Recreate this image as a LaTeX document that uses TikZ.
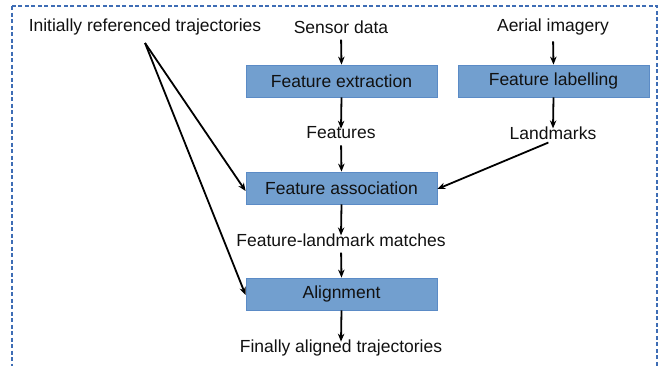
\documentclass[tikz,border=0pt]{standalone}
\usepackage{fontspec}
\setmainfont{Liberation Sans}
\usetikzlibrary{arrows.meta}
\definecolor{boxfill}{HTML}{729FCF}
\definecolor{boxline}{HTML}{5B8BC6}
\definecolor{frame}{HTML}{3E6DB5}
\definecolor{ink}{HTML}{111111}
\tikzset{
  proc/.style={draw=boxline, line width=0.8pt, fill=boxfill, minimum width=191pt, minimum height=32pt, inner sep=0pt, text=ink, font=\fontsize{17.5}{20}\selectfont},
  lbl/.style={inner sep=1pt, text=ink, font=\fontsize{17.5}{20}\selectfont},
  arr/.style={draw=black, line width=1.8pt, -{Stealth[length=8pt,width=6.5pt]}},
  fromlbl/.style={shorten <=5pt}
}
\begin{document}
\begin{tikzpicture}[x=1pt,y=-1pt]
\useasboundingbox (0,0) rectangle (665,365);
\draw[frame, line width=2.3pt, dash pattern=on 4pt off 2.5pt] (12,6) rectangle (657,380);
\node[lbl] (init) at (145,27) {Initially referenced trajectories};
\node[lbl] (sensor) at (341,27) {Sensor data};
\node[lbl] (aerial) at (553,27) {Aerial imagery};
\node[proc] (extr) at (341.5,81) {Feature extraction};
\node[proc] (label) at (553.5,81) {Feature labelling};
\node[lbl] (feat) at (341,133) {Features};
\node[lbl] (land) at (553,133) {Landmarks};
\node[proc] (assoc) at (341.5,188) {Feature association};
\node[lbl] (match) at (341,240) {Feature-landmark matches};
\node[proc] (align) at (341.5,294) {Alignment};
\node[lbl] (final) at (341,348) {Finally aligned trajectories};
\coordinate (src) at (145,43);
\draw[arr,fromlbl] (sensor.south) -- (extr.north);
\draw[arr,fromlbl] (aerial.south) -- (label.north);
\draw[arr] (extr.south) -- ([yshift=-3pt]feat.north);
\draw[arr] (label.south) -- ([yshift=-3pt]land.north);
\draw[arr,fromlbl] (feat.south) -- (assoc.north);
\draw[arr,fromlbl] (land.south) -- ([yshift=-1pt]assoc.east);
\draw[arr] (assoc.south) -- ([yshift=-3pt]match.north);
\draw[arr,fromlbl] (match.south) -- (align.north);
\draw[arr] (align.south) -- ([yshift=-3pt]final.north);
\draw[arr] (src) -- ([yshift=-3pt]assoc.west);
\draw[arr] (src) -- ([yshift=-1pt]align.west);
\end{tikzpicture}
\end{document}
